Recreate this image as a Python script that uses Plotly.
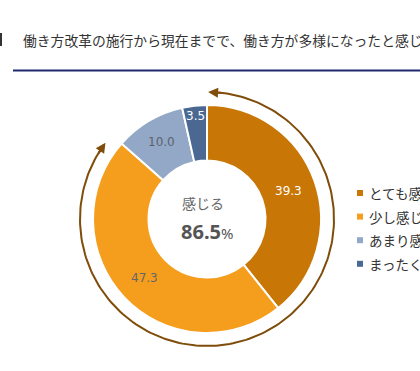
import numpy as np
import plotly.graph_objects as go

categories = ["とても感じる", "少し感じる", "あまり感じない", "まったく感じない"]
values = [39.3, 47.3, 10.0, 3.5]
colors = ["#C87606", "#F59E1E", "#93A8C6", "#4A6891"]
label_colors = ["#FFFFFF", "#666666", "#5A6270", "#FFFFFF"]
label_radius = [86, 86, 90, 104]
total_feel = 86.5
title_text = "働き方改革の施行から現在までで、働き方が多様になったと感じますか"
center_label = "感じる"

W, H = 420, 371
cx, cy, R, r_hole = 207, 219, 114, 58.5
arc_R = 127

fig = go.Figure()

fig.add_trace(go.Pie(
    labels=categories, values=values, sort=False, direction="clockwise",
    rotation=0, hole=r_hole / R,
    marker=dict(colors=colors, line=dict(color="white", width=2)),
    textinfo="none", hoverinfo="label+value", showlegend=False,
    domain=dict(x=[(cx - R) / W, (cx + R) / W], y=[1 - (cy + R) / H, 1 - (cy - R) / H]),
))

# slice labels
tot = sum(values)
cum = 0
annotations = []
for v, c, rr in zip(values, label_colors, label_radius):
    mid = (cum + v / 2) / tot * 2 * np.pi
    cum += v
    annotations.append(dict(
        x=cx + rr * np.sin(mid), y=cy - rr * np.cos(mid), xref="x", yref="y",
        text=f"{v:.1f}", showarrow=False, font=dict(size=12, color=c, family="DejaVu Sans"),
    ))

# arc with arrows covering the "feel" share
a0 = np.deg2rad(2)
a1 = np.deg2rad(360 * (values[0] + values[1]) / tot - 6)
t = np.linspace(a0, a1, 200)
fig.add_trace(go.Scatter(
    x=cx + arc_R * np.sin(t), y=cy - arc_R * np.cos(t), mode="lines",
    line=dict(color="#7F4C0A", width=2), hoverinfo="skip", showlegend=False,
))
for ang, back in [(a0 - np.deg2rad(1.5), a0 + np.deg2rad(5)), (a1 + np.deg2rad(1.5), a1 - np.deg2rad(5))]:
    annotations.append(dict(
        x=cx + arc_R * np.sin(ang), y=cy - arc_R * np.cos(ang), xref="x", yref="y",
        ax=cx + arc_R * np.sin(back), ay=cy - arc_R * np.cos(back), axref="x", ayref="y",
        showarrow=True, arrowhead=2, arrowsize=1, arrowwidth=2, arrowcolor="#7F4C0A", text="",
    ))

# center text
annotations.append(dict(x=cx - 4, y=203, xref="x", yref="y", text=center_label, showarrow=False,
                        font=dict(size=14, color="#666666", family="Noto Sans CJK JP")))
annotations.append(dict(x=cx, y=231, xref="x", yref="y",
                        text=f"<b>{total_feel}</b><span style='font-size:15px'>%</span>",
                        showarrow=False, font=dict(size=20, color="#555555", family="Noto Sans")))

# title
annotations.append(dict(x=21, y=40, xref="x", yref="y", xanchor="left", yanchor="middle",
                        text=title_text, showarrow=False,
                        font=dict(size=13.8, color="#333333", family="Noto Sans CJK JP")))

# manual legend
shapes = []
for i, (cat, col) in enumerate(zip(categories, colors)):
    yy = 193 + i * 23.6
    shapes.append(dict(type="rect", xref="x", yref="y", x0=357, x1=363, y0=yy - 3, y1=yy + 3,
                       fillcolor=col, line=dict(width=0)))
    annotations.append(dict(x=367, y=yy, xref="x", yref="y", xanchor="left", yanchor="middle",
                            text=cat, showarrow=False,
                            font=dict(size=13.5, color="#333333", family="Noto Sans CJK JP")))

# title underline and partial left glyph
shapes.append(dict(type="line", xref="x", yref="y", x0=13, x1=W, y0=70.5, y1=70.5,
                   line=dict(color="#1F2A6E", width=2)))
shapes.append(dict(type="rect", xref="x", yref="y", x0=0, x1=2, y0=33, y1=46,
                   fillcolor="#333333", line=dict(width=0)))

fig.update_layout(
    width=W, height=H, margin=dict(l=0, r=0, t=0, b=0),
    paper_bgcolor="white", plot_bgcolor="rgba(0,0,0,0)",
    xaxis=dict(range=[0, W], visible=False, fixedrange=True),
    yaxis=dict(range=[H, 0], visible=False, fixedrange=True),
    annotations=annotations, shapes=shapes, showlegend=False,
)

fig.write_html("out.html", config={"displayModeBar": False},
               post_script="document.body.style.margin='0';document.body.style.overflow='hidden';")
